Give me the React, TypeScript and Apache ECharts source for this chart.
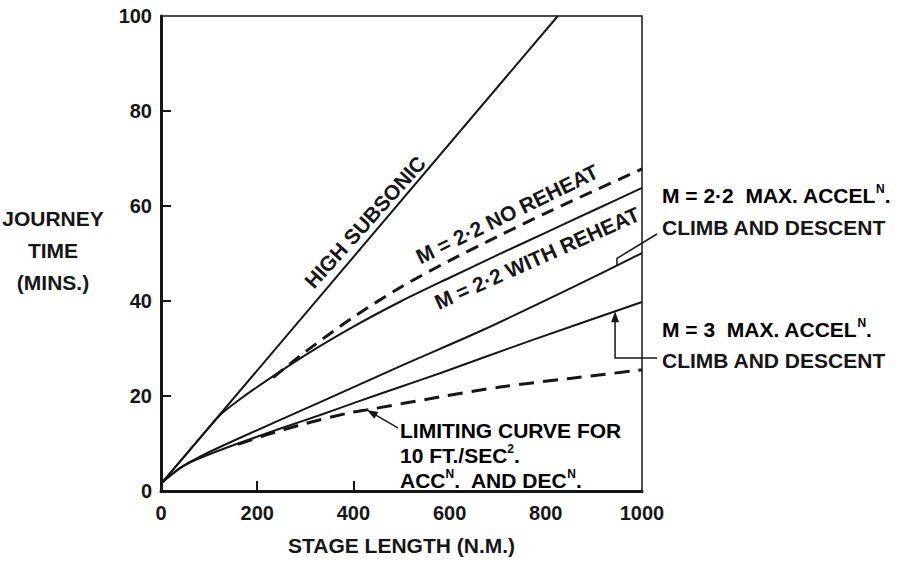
import React, { useEffect, useRef } from 'react';
import * as echarts from 'echarts';

// ---- data (stage length N.M., journey time mins) ----
const xTickValues = [0, 200, 400, 600, 800, 1000];
const xInnerTicks = [200, 400];
const yTickValues = [0, 20, 40, 60, 80, 100];
const yInnerTicks = [20, 40, 60, 80];

const highSubsonic: number[][] = [[0, 1.5], [825, 100]];
const m22WithReheat: number[][] = [
  [0, 1.5], [100, 13.4], [125, 16.2], [160, 19.0], [200, 21.9], [300, 28.6], [400, 34.6],
  [500, 40.0], [600, 44.9], [700, 49.7], [800, 54.4], [900, 59.1], [1000, 63.8],
];
const m22NoReheat: number[][] = [
  [233, 23.9], [300, 29.3], [400, 36.6], [500, 43.0], [600, 48.5],
  [700, 53.6], [800, 58.5], [900, 63.2], [1000, 67.8],
];
const m22MaxAccel: number[][] = [
  [0, 1.5], [20, 3.3], [45, 5.2], [80, 7.2], [160, 11.0], [331, 18.7], [500, 26.4],
  [669, 33.9], [850, 42.6], [1000, 50.1],
];
const m3MaxAccel: number[][] = [
  [0, 1.5], [20, 3.3], [45, 5.2], [80, 6.9], [160, 10.0], [250, 13.2], [331, 16.0],
  [403, 18.6], [500, 22.0], [580, 24.8], [767, 31.6], [1000, 39.8],
];
const limitingCurve: number[][] = [
  [160, 9.8], [216, 11.7], [300, 14.2], [389, 16.4], [435, 17.2], [580, 19.8],
  [705, 21.9], [850, 23.7], [1000, 25.5],
];

function interp(s: number[][], x: number): number {
  for (let i = 1; i < s.length; i++) {
    if (x <= s[i][0]) {
      const t = (x - s[i - 1][0]) / (s[i][0] - s[i - 1][0]);
      return s[i - 1][1] + t * (s[i][1] - s[i - 1][1]);
    }
  }
  return s[s.length - 1][1];
}

export default function App() {
  const ref = useRef<HTMLDivElement>(null);
  useEffect(() => {
    const chart = echarts.init(ref.current!, null, { renderer: 'svg' });
    const FONT = 'Liberation Sans';
    const ink = '#161616';
    const solid = (name: string, data: number[][], smooth: number) => ({
      name, type: 'line', data, smooth, symbol: 'none', silent: true,
      lineStyle: { color: ink, width: 2 },
    });
    const dashed = (name: string, data: number[][], dash: number[]) => ({
      name, type: 'line', data, smooth: 0.3, symbol: 'none', silent: true,
      lineStyle: { color: ink, width: 3, type: dash },
    });
    chart.setOption({
      animation: false,
      backgroundColor: '#ffffff',
      grid: {
        left: 161, top: 16, right: 255, bottom: 77, show: true,
        borderColor: ink, borderWidth: 1.5, backgroundColor: 'transparent',
      },
      xAxis: {
        type: 'value', min: 0, max: 1000, interval: 200,
        name: 'STAGE LENGTH (N.M.)', nameLocation: 'middle', nameGap: 44,
        nameTextStyle: { fontFamily: FONT, fontWeight: 'bold', fontSize: 21, color: ink },
        axisLine: { show: true, lineStyle: { color: ink, width: 3 } },
        axisTick: { show: true, inside: true, length: 10, lineStyle: { color: ink, width: 2 }, customValues: xInnerTicks },
        axisLabel: { fontFamily: FONT, fontWeight: 'bold', fontSize: 20, color: ink, margin: 12, customValues: xTickValues, formatter: (v: number) => String(v) },
        splitLine: { show: false },
      },
      yAxis: {
        type: 'value', min: 0, max: 100, interval: 20,
        axisLine: { show: true, lineStyle: { color: ink, width: 3 } },
        axisTick: { show: true, inside: true, length: 10, lineStyle: { color: ink, width: 2 }, customValues: yInnerTicks },
        axisLabel: { fontFamily: FONT, fontWeight: 'bold', fontSize: 20, color: ink, margin: 9, customValues: yTickValues, formatter: (v: number) => String(v) },
        splitLine: { show: false },
      },
      series: [
        solid('High subsonic', highSubsonic, 0),
        solid('M=2.2 with reheat', m22WithReheat, 0.3),
        dashed('M=2.2 no reheat', m22NoReheat, [13, 8]),
        solid('M=2.2 max accel', m22MaxAccel, 0.3),
        solid('M=3 max accel', m3MaxAccel, 0.3),
        dashed('Limiting curve', limitingCurve, [15, 9]),
      ],
    });

    const p = (x: number, y: number) => chart.convertToPixel({ gridIndex: 0 }, [x, y]) as number[];
    const txt = (x: number, y: number, text: string, extra: any = {}) => ({
      type: 'text', x, y, silent: true,
      style: {
        text, fill: ink, fontFamily: FONT, fontWeight: 'bold', fontSize: 21,
        align: 'left', verticalAlign: 'middle', ...extra.style,
      },
      ...extra.el,
    });
    const richStyles = {
      a: { fontFamily: FONT, fontWeight: 'bold', fontSize: 21, color: ink, lineHeight: 25 },
      s: { fontFamily: FONT, fontWeight: 'bold', fontSize: 12, color: ink, lineHeight: 12, verticalAlign: 'top' },
    };
    const deg = Math.PI / 180;

    const a1 = p(948, interp(m22MaxAccel, 948));
    const a2 = p(944, interp(m3MaxAccel, 944));
    const a3 = p(428, interp(limitingCurve, 428));
    const tail3 = [a3[0] + 31, a3[1] + 18];
    const ang3 = Math.atan2(tail3[1] - a3[1], tail3[0] - a3[0]);
    const head = (tip: number[], ang: number, len = 11, w = 4) => {
      const bx = tip[0] + Math.cos(ang) * len, by = tip[1] + Math.sin(ang) * len;
      const nx = -Math.sin(ang) * w, ny = Math.cos(ang) * w;
      return { type: 'polygon', silent: true, shape: { points: [tip, [bx + nx, by + ny], [bx - nx, by - ny]] }, style: { fill: ink } };
    };
    const lineStyle = { stroke: ink, lineWidth: 1.5, fill: 'none' };

    chart.setOption({
      graphic: [
        { type: 'text', x: 53, y: 250, silent: true,
          style: { text: 'JOURNEY\nTIME\n(MINS.)', fill: ink, fontFamily: FONT, fontWeight: 'bold', fontSize: 21, lineHeight: 32, align: 'center', verticalAlign: 'middle' } },
        txt(365, 222, 'HIGH SUBSONIC', { style: { align: 'center' }, el: { rotation: 48 * deg } }),
        txt(507, 214, 'M = 2·2 NO REHEAT', { style: { align: 'center' }, el: { rotation: 26 * deg } }),
        txt(537, 258, 'M = 2·2 WITH REHEAT', { style: { align: 'center' }, el: { rotation: 24 * deg } }),
        { type: 'text', x: 662, y: 195, silent: true, style: { text: '{a|M = 2·2  MAX. ACCEL}{s|N}{a|.}', rich: richStyles, verticalAlign: 'middle' } },
        txt(662, 227, 'CLIMB AND DESCENT'),
        { type: 'text', x: 662, y: 329, silent: true, style: { text: '{a|M = 3  MAX. ACCEL}{s|N}{a|.}', rich: richStyles, verticalAlign: 'middle' } },
        txt(662, 360, 'CLIMB AND DESCENT'),
        { type: 'text', x: 400, y: 455, silent: true,
          style: { text: '{a|LIMITING CURVE FOR}\n{a|10 FT./SEC}{s|2}{a|.}\n{a|ACC}{s|N}{a|.  AND DEC}{s|N}{a|.}', rich: richStyles, verticalAlign: 'middle', align: 'left' } },
        { type: 'polyline', silent: true, shape: { points: [a1, [a1[0], a1[1] - 7], [657, 234]] }, style: lineStyle },
        { type: 'polyline', silent: true, shape: { points: [[657, 358], [a2[0], 358], [a2[0], a2[1] + 8]] }, style: lineStyle },
        head(a2, Math.PI / 2),
        { type: 'line', silent: true, shape: { x1: tail3[0], y1: tail3[1], x2: a3[0] + 6, y2: a3[1] + 3.5 }, style: lineStyle },
        head(a3, ang3),
      ],
    });
    return () => chart.dispose();
  }, []);
  return <div ref={ref} style={{ position: 'fixed', left: 0, top: 0, width: 897, height: 568, background: '#fff' }} />;
}
